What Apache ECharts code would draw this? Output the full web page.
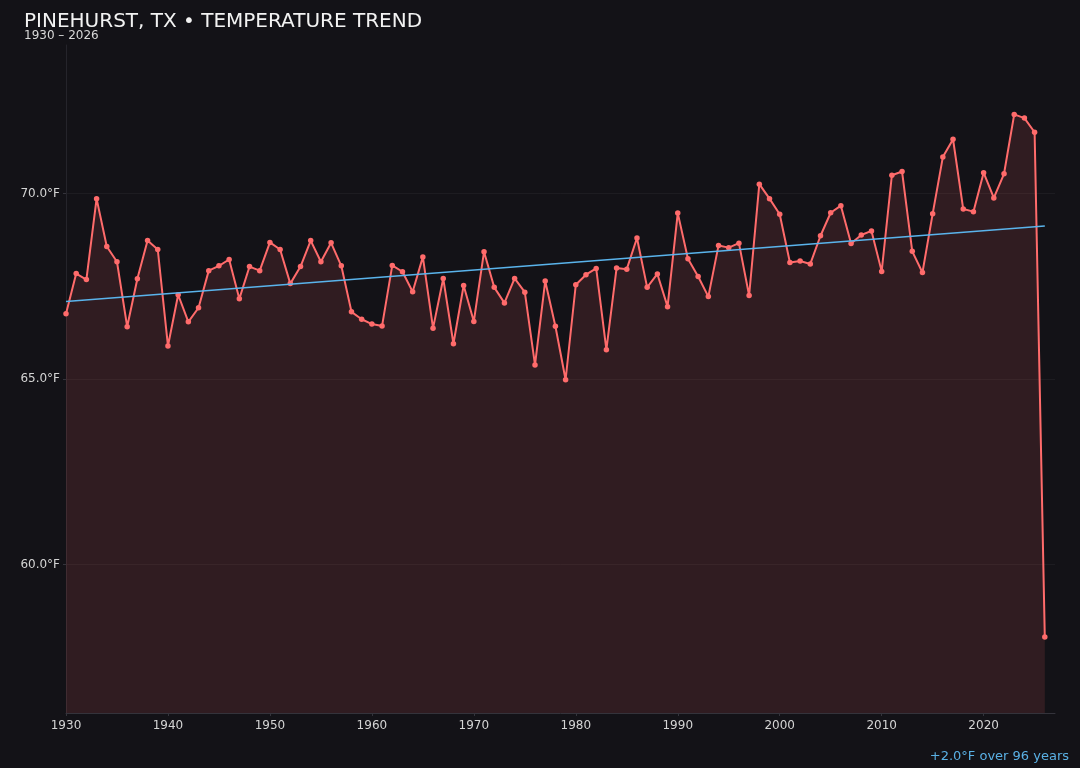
<!DOCTYPE html>
<html>
<head>
<meta charset="utf-8">
<title>Pinehurst, TX temperature trend</title>
<script src="https://cdn.jsdelivr.net/npm/echarts@6/dist/echarts.min.js"></script>
<style>
    html, body {
        margin: 0;
        padding: 0;
        background: #131217;
    }
    #chart {
        width: 1080px;
        height: 768px;
    }
</style>
</head>
<body>
<div id="chart"></div>
<script>
// annual mean temperature, °F
var startYear = 1930;
var temps = [
    66.76, 67.84, 67.68, 69.86, 68.57, 68.16, 66.41, 67.70, 68.73, 68.49,
    65.89, 67.27, 66.54, 66.92, 67.92, 68.05, 68.22, 67.16, 68.03, 67.92,
    68.68, 68.49, 67.57, 68.03, 68.73, 68.16, 68.67, 68.05, 66.81, 66.61,
    66.48, 66.43, 68.06, 67.89, 67.35, 68.29, 66.37, 67.71, 65.95, 67.52,
    66.55, 68.43, 67.47, 67.05, 67.71, 67.34, 65.38, 67.64, 66.42, 64.98,
    67.54, 67.81, 67.98, 65.79, 67.99, 67.96, 68.80, 67.47, 67.83, 66.95,
    69.47, 68.24, 67.76, 67.22, 68.60, 68.54, 68.66, 67.25, 70.25, 69.86,
    69.44, 68.14, 68.18, 68.10, 68.86, 69.48, 69.67, 68.65, 68.88, 68.99,
    67.90, 70.49, 70.59, 68.44, 67.87, 69.45, 70.98, 71.46, 69.58, 69.51,
    70.56, 69.88, 70.53, 72.13, 72.03, 71.65, 58.05
];
// trend line end points
var trendYears = [1930, 2026];
var trendTemps = [67.09, 69.12];

var xTicks = [1930, 1940, 1950, 1960, 1970, 1980, 1990, 2000, 2010, 2020];
var yTicks = [60, 65, 70];

var years = [];
for (var i = 0; i < temps.length; i++) {
    years.push(startYear + i);
}
var tempData = years.map(function (y, i) {
    return [y, temps[i]];
});
var trendData = trendYears.map(function (y, i) {
    return [y, trendTemps[i]];
});

var myChart = echarts.init(document.getElementById('chart'));
var font = 'DejaVu Sans';
var option = {
    backgroundColor: '#131217',
    animation: false,
    title: [
        {
            text: 'PINEHURST, TX • TEMPERATURE TREND',
            left: 19,
            top: 7,
            textStyle: {
                color: '#f2f2f2',
                fontFamily: font,
                fontSize: 20,
                fontWeight: 'normal'
            }
        },
        {
            text: '1930 – 2026',
            left: 19,
            top: 25,
            textStyle: {
                color: '#d8d8d8',
                fontFamily: font,
                fontSize: 12,
                fontWeight: 'normal'
            }
        },
        {
            text: '+2.0°F over 96 years',
            right: 6,
            bottom: 0,
            textStyle: {
                color: '#5ab0e4',
                fontFamily: font,
                fontSize: 13,
                fontWeight: 'normal'
            }
        }
    ],
    grid: {
        left: 66,
        right: 25,
        top: 45,
        bottom: 55
    },
    xAxis: {
        type: 'value',
        min: 1930,
        max: 2027,
        interval: 10,
        axisLine: {
            lineStyle: {color: '#34333b'}
        },
        axisTick: {
            length: 3,
            customValues: xTicks,
            lineStyle: {color: '#34333b'}
        },
        axisLabel: {
            customValues: xTicks,
            color: '#d4d4d4',
            fontFamily: font,
            fontSize: 12,
            margin: 7,
            formatter: function (v) {
                return String(v);
            }
        },
        splitLine: {show: false}
    },
    yAxis: {
        type: 'value',
        min: 56,
        max: 74,
        interval: 1,
        axisLine: {
            show: true,
            lineStyle: {color: '#25242b'}
        },
        axisTick: {
            show: true,
            length: 3,
            customValues: yTicks,
            lineStyle: {color: '#34333b'}
        },
        axisLabel: {
            customValues: yTicks,
            color: '#d4d4d4',
            fontFamily: font,
            fontSize: 12,
            margin: 6,
            formatter: function (v) {
                return v.toFixed(1) + '°F';
            }
        },
        splitLine: {
            show: true,
            lineStyle: {color: 'rgba(255,255,255,0.045)'}
        }
    },
    series: [
        {
            name: 'Temperature',
            type: 'line',
            data: tempData,
            symbol: 'circle',
            symbolSize: 5.5,
            lineStyle: {
                color: '#ff6b6b',
                width: 2
            },
            itemStyle: {
                color: '#ff6b6b'
            },
            areaStyle: {
                origin: 'start',
                color: 'rgba(255,107,107,0.18)'
            },
            z: 3
        },
        {
            name: 'Trend',
            type: 'line',
            data: trendData,
            symbol: 'none',
            lineStyle: {
                color: '#5ab4ec',
                width: 1.5
            },
            z: 4
        }
    ]
};
myChart.setOption(option);
window.onresize = function () {
    myChart.resize();
};
</script>
</body>
</html>
